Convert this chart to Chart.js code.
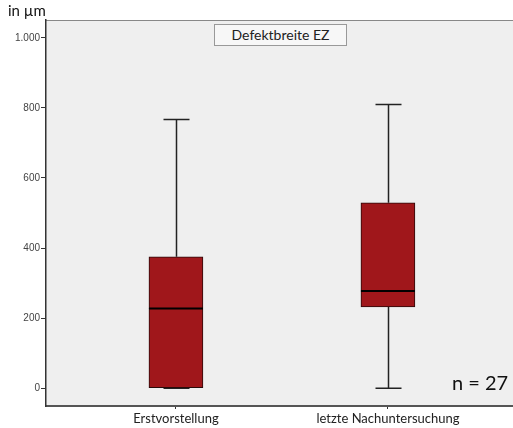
<!DOCTYPE html>
<html lang="de">
<head>
    <meta charset="UTF-8">
    <title>Defektbreite EZ</title>
    <script src="https://cdn.jsdelivr.net/npm/chart.js"></script>
    <style>
        body {
            margin: 0;
            background: #ffffff;
            font-family: Lato, "Open Sans", sans-serif;
        }
        .wrap {
            position: relative;
            width: 513px;
            height: 428px;
        }
        .unit {
            position: absolute;
            left: 8px;
            top: 1px;
            font-size: 15px;
            color: #111;
        }
        .boxtitle {
            position: absolute;
            left: 214px;
            top: 24px;
            width: 131px;
            height: 20px;
            line-height: 20px;
            text-align: center;
            font-size: 14px;
            color: #222;
            background: #f7f7f7;
            border: 1px solid #999;
        }
        .n {
            position: absolute;
            left: 452px;
            top: 370px;
            font-size: 20px;
            color: #111;
        }
    </style>
</head>
<body>
<div class="wrap">
    <canvas id="boxChart" width="513" height="428"></canvas>
    <div class="unit">in µm</div>
    <div class="boxtitle">Defektbreite EZ</div>
    <div class="n">n = 27</div>
</div>

<script>
    // Kategorien und Kennwerte (in µm)
    const categories = ['Erstvorstellung', 'letzte Nachuntersuchung'];
    const mins = [0, 0];
    const q1s = [0, 232];
    const medians = [227, 277];
    const q3s = [375, 529];
    const maxs = [767, 810];
    const yTicks = [0, 200, 400, 600, 800, 1000];

    const boxColor = '#a0171b';

    // Hintergrund + obere Linie
    const plotBackground = {
        id: 'plotBackground',
        beforeDraw(chart) {
            const { ctx, chartArea: a } = chart;
            ctx.save();
            ctx.fillStyle = '#efefef';
            ctx.fillRect(a.left, a.top, a.right - a.left, a.bottom - a.top);
            ctx.strokeStyle = '#888';
            ctx.lineWidth = 1;
            ctx.beginPath();
            ctx.moveTo(a.left, a.top + 0.5);
            ctx.lineTo(a.right, a.top + 0.5);
            ctx.stroke();
            ctx.restore();
        }
    };

    // Whisker und Median
    const whiskers = {
        id: 'whiskers',
        beforeDatasetsDraw(chart) {
            const { ctx, scales: { x, y } } = chart;
            ctx.save();
            ctx.strokeStyle = '#222';
            ctx.lineWidth = 1.5;
            categories.forEach((c, i) => {
                const px = Math.round(x.getPixelForValue(i + 1)) + 0.5;
                const cap = 13;
                ctx.beginPath();
                ctx.moveTo(px, y.getPixelForValue(maxs[i]));
                ctx.lineTo(px, y.getPixelForValue(q3s[i]));
                ctx.moveTo(px, y.getPixelForValue(q1s[i]));
                ctx.lineTo(px, y.getPixelForValue(mins[i]));
                ctx.moveTo(px - cap, y.getPixelForValue(maxs[i]));
                ctx.lineTo(px + cap, y.getPixelForValue(maxs[i]));
                ctx.moveTo(px - cap, y.getPixelForValue(mins[i]));
                ctx.lineTo(px + cap, y.getPixelForValue(mins[i]));
                ctx.stroke();
            });
            ctx.restore();
        },
        afterDatasetsDraw(chart) {
            const { ctx, scales: { x, y } } = chart;
            ctx.save();
            ctx.strokeStyle = '#000';
            ctx.lineWidth = 2;
            categories.forEach((c, i) => {
                const px = x.getPixelForValue(i + 1);
                const py = y.getPixelForValue(medians[i]);
                ctx.beginPath();
                ctx.moveTo(px - 27, py);
                ctx.lineTo(px + 27, py);
                ctx.stroke();
            });
            ctx.restore();
        }
    };

    new Chart(document.getElementById('boxChart').getContext('2d'), {
        type: 'bar',
        data: {
            datasets: [{
                data: categories.map((c, i) => ({ x: i + 1, y: [q1s[i], q3s[i]] })),
                backgroundColor: boxColor,
                borderColor: '#2a0a0a',
                borderWidth: 1,
                borderSkipped: false,
                barThickness: 54
            }]
        },
        options: {
            responsive: false,
            animation: false,
            layout: { padding: { top: 20, right: 0, left: 0, bottom: 0 } },
            plugins: {
                legend: { display: false },
                tooltip: { enabled: false }
            },
            scales: {
                x: {
                    type: 'linear',
                    offset: false,
                    min: 0.387,
                    max: 2.59,
                    afterBuildTicks(scale) {
                        scale.ticks = categories.map((c, i) => ({ value: i + 1 }));
                    },
                    afterFit(scale) { scale.height = 22; },
                    ticks: {
                        autoSkip: false,
                        maxRotation: 0,
                        padding: 2,
                        color: '#222',
                        font: { family: 'Lato, "Open Sans", sans-serif', size: 13 },
                        callback: (v) => categories[v - 1] || ''
                    },
                    grid: { display: true, offset: false, drawOnChartArea: false, drawTicks: true, tickLength: 3, color: '#333' },
                    border: { display: true, color: '#555', width: 2 }
                },
                y: {
                    min: -51,
                    max: 1051,
                    afterBuildTicks(scale) {
                        scale.ticks = yTicks.map(v => ({ value: v }));
                    },
                    afterFit(scale) { scale.width = 46; },
                    ticks: {
                        padding: 1,
                        color: '#444',
                        font: { family: '"Liberation Sans", Arial, sans-serif', size: 10 },
                        callback: (v) => v.toLocaleString('de-DE')
                    },
                    grid: { display: true, drawOnChartArea: false, drawTicks: true, tickLength: 5, color: '#333' },
                    border: { display: true, color: '#333', width: 1.5 }
                }
            }
        },
        plugins: [plotBackground, whiskers]
    });
</script>
</body>
</html>
